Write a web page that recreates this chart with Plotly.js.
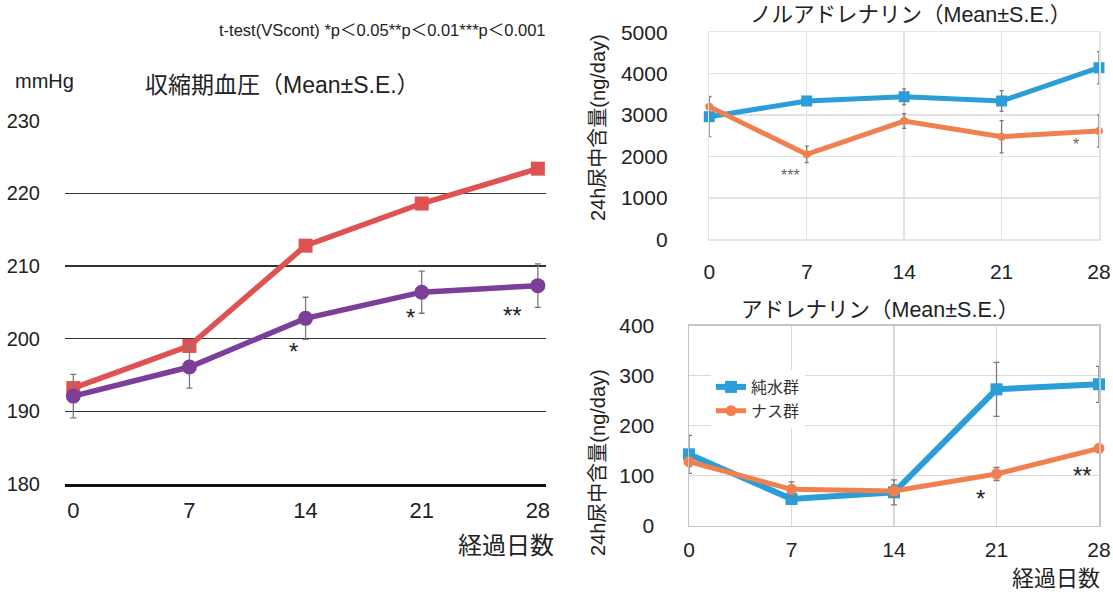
<!DOCTYPE html>
<html>
<head>
<meta charset="utf-8">
<script src="https://cdn.plot.ly/plotly-3.0.1.min.js"></script>
<style>html,body{margin:0;padding:0;background:#fff;}#chart{width:1113px;height:592px;}</style>
</head>
<body>
<div id="chart"></div>
<script>
// ---- data ----
const days = [0, 7, 14, 21, 28];
const dayLabels = ['0', '7', '14', '21', '28'];

// 収縮期血圧 (mmHg)
const bpControl = [193.2, 199.0, 212.8, 218.6, 223.4];
const bpNasu = [192.1, 196.1, 202.8, 206.4, 207.3];
const bpNasuErr = [3.0, 2.9, 2.9, 2.9, 3.0];

// ノルアドレナリン (ng/day)
const naWater = [2961, 3341, 3444, 3341, 4145];
const naWaterErr = [480, 80, 190, 250, 390];
const naNasu = [3203, 2053, 2857, 2478, 2616];
const naNasuErr = [250, 200, 180, 390, 390];

// アドレナリン (ng/day)
const adWater = [142.8, 53.4, 66.8, 272.8, 282.8];
const adWaterErr = [38, 10, 25, 54, 36];
const adNasu = [128, 72.8, 69.4, 103.4, 154.8];
const adNasuErr = [10, 15, 12, 13, 5];

const seriesNames = ['純水群', 'ナス群'];

// ---- style ----
const FONT = 'Liberation Sans, Noto Sans CJK JP, sans-serif';
const RED = '#df5252', PURPLE = '#7b3f99', BLUE = '#2b9ed8', ORANGE = '#f0814f';
const ERR = '#7a7a7a';

function errBar(arr, w) {
  return {type: 'data', array: arr, visible: true, color: ERR, thickness: 1.3, width: w};
}

const traces = [
  {x: days, y: bpControl, xaxis: 'x', yaxis: 'y', mode: 'lines+markers', showlegend: false,
   line: {color: RED, width: 5.5}, marker: {symbol: 'square', size: 14, color: RED}, cliponaxis: false},
  {x: days, y: bpNasu, xaxis: 'x', yaxis: 'y', mode: 'lines+markers', showlegend: false,
   error_y: errBar(bpNasuErr, 3),
   line: {color: PURPLE, width: 5.5}, marker: {symbol: 'circle', size: 15, color: PURPLE}, cliponaxis: false},

  {x: days, y: naWater, xaxis: 'x2', yaxis: 'y2', mode: 'lines+markers', showlegend: false,
   error_y: errBar(naWaterErr, 2),
   line: {color: BLUE, width: 5}, marker: {symbol: 'square', size: 11, color: BLUE}, cliponaxis: false},
  {x: days, y: naNasu, xaxis: 'x2', yaxis: 'y2', mode: 'lines+markers', showlegend: false,
   error_y: errBar(naNasuErr, 2),
   line: {color: ORANGE, width: 5}, marker: {symbol: 'circle', size: 8, color: ORANGE}, cliponaxis: false},

  {x: days, y: adWater, xaxis: 'x3', yaxis: 'y3', mode: 'lines+markers', name: seriesNames[0],
   error_y: errBar(adWaterErr, 3),
   line: {color: BLUE, width: 6}, marker: {symbol: 'square', size: 12, color: BLUE}, cliponaxis: false},
  {x: days, y: adNasu, xaxis: 'x3', yaxis: 'y3', mode: 'lines+markers', name: seriesNames[1],
   error_y: errBar(adNasuErr, 3),
   line: {color: ORANGE, width: 5}, marker: {symbol: 'circle', size: 11, color: ORANGE}, cliponaxis: false}
];

const W = 1113, H = 592;
const px = v => v / W, py = v => 1 - v / H;

function ann(text, x, y, size, opts) {
  return Object.assign({text: text, x: x, y: y, xref: 'paper', yref: 'paper', showarrow: false,
    font: {family: FONT, size: size, color: '#222'}, xanchor: 'center', yanchor: 'middle'}, opts || {});
}
function star(text, x, y, xr, yr, size, color) {
  return {text: text, x: x, y: y, xref: xr, yref: yr, showarrow: false,
    font: {family: FONT, size: size, color: color || '#222'}, xanchor: 'center', yanchor: 'middle'};
}

const layout = {
  width: W, height: H,
  margin: {l: 0, r: 0, t: 0, b: 0},
  paper_bgcolor: '#fff', plot_bgcolor: 'rgba(0,0,0,0)',
  font: {family: FONT, color: '#222'},
  showlegend: true,
  legend: {x: px(711), y: py(370), xanchor: 'left', yanchor: 'top', bgcolor: '#fff',
    font: {family: FONT, size: 16, color: '#333'}, itemwidth: 30, tracegroupgap: 0},
  xaxis: {domain: [px(65), px(546)], range: [-0.5, 28.49], anchor: 'y',
    tickvals: days, ticktext: dayLabels, ticks: '', ticklen: 0, ticklabelstandoff: 5,
    showgrid: false, zeroline: false, showline: true, linecolor: '#111', linewidth: 3,
    tickfont: {family: FONT, size: 22, color: '#222'}},
  yaxis: {domain: [py(484), py(120.7)], range: [180, 230], dtick: 10, anchor: 'x',
    ticks: '', ticklen: 0, ticklabelstandoff: 24, showgrid: true, gridcolor: '#333', gridwidth: 1.4,
    zeroline: false, showline: false, tickfont: {family: FONT, size: 20, color: '#222'}},

  xaxis2: {domain: [px(709.3), px(1099)], range: [0, 28], anchor: 'y2',
    tickvals: days, ticktext: dayLabels, ticks: '', ticklen: 0, ticklabelstandoff: 13,
    showgrid: true, gridcolor: '#e2e2e2', gridwidth: 1.5, zeroline: false,
    showline: true, mirror: true, linecolor: '#e4e4e4', linewidth: 1.5,
    tickfont: {family: FONT, size: 21, color: '#222'}},
  yaxis2: {domain: [py(239.3), py(32.3)], range: [0, 5000], dtick: 1000, anchor: 'x2',
    ticks: '', ticklen: 0, ticklabelstandoff: 36, showgrid: true, gridcolor: '#e2e2e2', gridwidth: 1.5,
    zeroline: false, showline: true, mirror: true, linecolor: '#e4e4e4', linewidth: 1.5,
    tickfont: {family: FONT, size: 21, color: '#222'}},

  xaxis3: {domain: [px(689), px(1099)], range: [0, 28], anchor: 'y3',
    tickvals: days, ticktext: dayLabels, ticks: '', ticklen: 0, ticklabelstandoff: 5,
    showgrid: true, gridcolor: '#d9d9d9', gridwidth: 1.3, zeroline: false,
    showline: true, mirror: true, linecolor: '#c4c4c4', linewidth: 1.5,
    tickfont: {family: FONT, size: 21, color: '#222'}},
  yaxis3: {domain: [py(525.7), py(325.7)], range: [0, 400], dtick: 100, anchor: 'x3',
    ticks: '', ticklen: 0, ticklabelstandoff: 29, showgrid: true, gridcolor: '#d9d9d9', gridwidth: 1.3,
    zeroline: false, showline: true, mirror: true, linecolor: '#c4c4c4', linewidth: 1.5,
    tickfont: {family: FONT, size: 21, color: '#222'}},

  annotations: [
    ann('t-test(VScont) *p＜0.05**p＜0.01***p＜0.001', px(382.5), py(30), 16.5),
    ann('mmHg', px(44), py(81), 20),
    ann('収縮期血圧（Mean±S.E.）', px(282), py(85), 23),
    ann('経過日数', px(556), py(545), 24, {xanchor: 'right'}),
    ann('ノルアドレナリン（Mean±S.E.）', px(911), py(15), 21.5),
    ann('24h尿中含量(ng/day)', px(598), py(128), 20, {textangle: -90}),
    ann('アドレナリン（Mean±S.E.）', px(880), py(310), 21.5),
    ann('24h尿中含量(ng/day)', px(598), py(463), 20, {textangle: -90}),
    ann('経過日数', px(1102), py(578), 22, {xanchor: 'right'}),

    star('*', 13.26, 198.3, 'x', 'y', 24),
    star('*', 20.3, 202.9, 'x', 'y', 24),
    star('**', 26.5, 203.2, 'x', 'y', 24),
    star('***', 5.8, 1530, 'x2', 'y2', 16, '#666'),
    star('*', 26.36, 2290, 'x2', 'y2', 16, '#666'),
    star('*', 19.88, 55, 'x3', 'y3', 24),
    star('**', 26.9, 100, 'x3', 'y3', 24)
  ]
};

Plotly.newPlot('chart', traces, layout, {displayModeBar: false, staticPlot: true});
</script>
</body>
</html>
